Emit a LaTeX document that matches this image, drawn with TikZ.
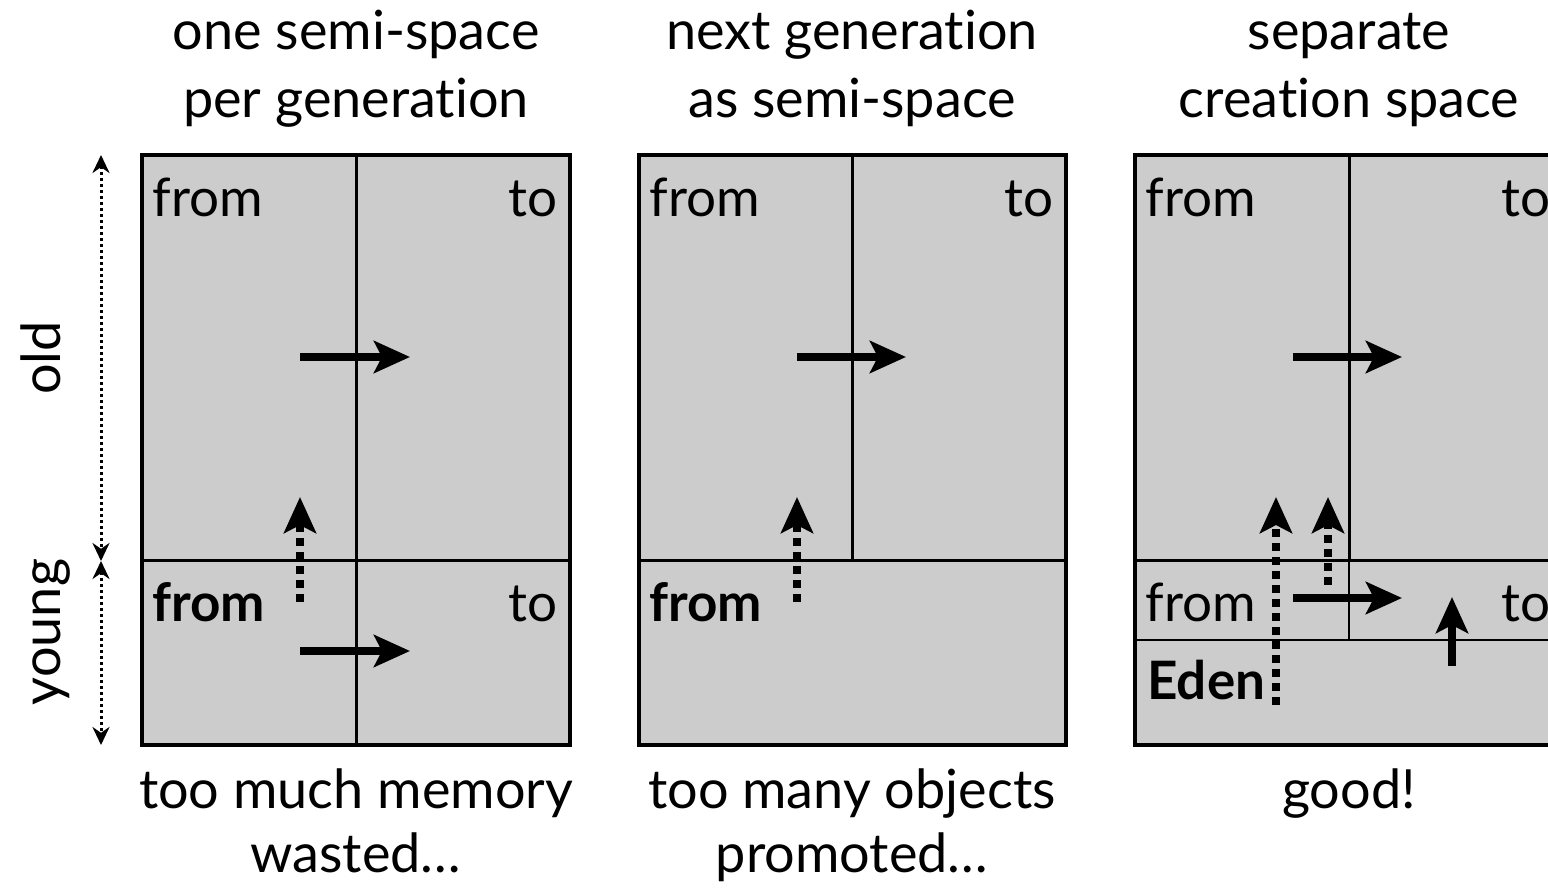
\documentclass[tikz,border=0pt]{standalone}
\usepackage{fontspec}
\setmainfont[Ligatures=NoCommon]{Lato}
\usetikzlibrary{arrows.meta}
\definecolor{boxgray}{gray}{0.8}
\begin{document}
\begin{tikzpicture}[x=0.5pt,y=-0.5pt,
  box/.style={fill=boxgray,draw=black,line width=1.8pt},
  divline/.style={draw=black,line width=1.5pt},
  thindiv/.style={draw=black,line width=0.9pt},
  move/.style={line width=4pt,-{Stealth[length=18pt,width=16pt,inset=4pt]}},
  promote/.style={line width=4.2pt,dash pattern=on 4pt off 3pt,-{Stealth[length=18pt,width=16pt,inset=4pt]}},
  span/.style={line width=1.5pt,dash pattern=on 1.5pt off 1.5pt,{Stealth[length=9pt,width=8.5pt]}-{Stealth[length=9pt,width=8.5pt]}},
  lbl/.style={inner sep=0pt,font=\fontsize{26.5}{30}\selectfont},
  boldlbl/.style={lbl,font=\fontsize{26.5}{30}\selectfont\bfseries},
  ttl/.style={inner sep=0pt,anchor=base,font=\fontsize{27}{30}\selectfont}]
\useasboundingbox (0,0) rectangle (1548,892);
\clip (0,0) rectangle (1548,892);

% ---------- titles ----------
\node[ttl] (t1a) at (356,50) {one semi-space};
\node[ttl] (t1b) at (356,118) {per generation};
\node[ttl] (t2a) at (852,50) {next generation};
\node[ttl] (t2b) at (852,118) {as semi-space};
\node[ttl] (t3a) at (1349,50) {separate};
\node[ttl] (t3b) at (1349,118) {creation space};

% ---------- bottom captions ----------
\node[ttl] (c1a) at (356,808) {too much memory};
\node[ttl] (c1b) at (356,872) {wasted\ldots};
\node[ttl] (c2a) at (852,808) {too many objects};
\node[ttl] (c2b) at (852,872) {promoted\ldots};
\node[ttl] (c3a) at (1349,808) {good!};

% ---------- side labels ----------
\coordinate (s0) at (101,155);
\coordinate (s1) at (101,561);
\coordinate (s2) at (101,745);
\draw[span] (s0) -- (s1);
\draw[span] (s1) -- (s2);
\node[ttl,rotate=90,anchor=base] (old) at (61,358) {old};
\node[ttl,rotate=90,anchor=base] (young) at (61,632) {young};

% ---------- panel 1 ----------
\draw[box] (142,155) rectangle (570,745);
\draw[divline] (356,155) -- (356,745);
\draw[divline] (142,561) -- (570,561);
\node[lbl,anchor=base west] (p1f) at (152,217) {from};
\node[lbl,anchor=base east] (p1t) at (558,217) {to};
\node[boldlbl,anchor=base west] (p1yf) at (152,622) {from};
\node[lbl,anchor=base east] (p1yt) at (558,622) {to};
\coordinate (a1s) at (300,357); \coordinate (a1e) at (410,357);
\coordinate (a2s) at (300,651); \coordinate (a2e) at (410,651);
\coordinate (d1s) at (300,602); \coordinate (d1e) at (300,497);
\draw[move] (a1s) -- (a1e);
\draw[move] (a2s) -- (a2e);
\draw[promote] (d1s) -- (d1e);

% ---------- panel 2 ----------
\draw[box] (639,155) rectangle (1066,745);
\draw[divline] (852,155) -- (852,561);
\draw[divline] (639,561) -- (1066,561);
\node[lbl,anchor=base west] (p2f) at (649,217) {from};
\node[lbl,anchor=base east] (p2t) at (1054,217) {to};
\node[boldlbl,anchor=base west] (p2yf) at (649,622) {from};
\coordinate (b1s) at (797,357); \coordinate (b1e) at (906,357);
\coordinate (e1s) at (797,602); \coordinate (e1e) at (797,497);
\draw[move] (b1s) -- (b1e);
\draw[promote] (e1s) -- (e1e);

% ---------- panel 3 ----------
\draw[box] (1135,155) rectangle (1563,745);
\draw[divline] (1349,155) -- (1349,561);
\draw[thindiv] (1349,561) -- (1349,640);
\draw[divline] (1135,561) -- (1563,561);
\draw[thindiv] (1135,640) -- (1563,640);
\node[lbl,anchor=base west] (p3f) at (1145,217) {from};
\node[lbl,anchor=base east] (p3t) at (1551,217) {to};
\node[lbl,anchor=base west] (p3yf) at (1145,622) {from};
\node[lbl,anchor=base east] (p3yt) at (1551,622) {to};
\node[boldlbl,anchor=base west] (eden) at (1147,700) {Eden};
\coordinate (c1s) at (1293,357); \coordinate (c1e) at (1402,357);
\coordinate (c2s) at (1293,598); \coordinate (c2e) at (1402,598);
\coordinate (f1s) at (1276,705); \coordinate (f1e) at (1276,497);
\coordinate (f2s) at (1328,585); \coordinate (f2e) at (1328,497);
\coordinate (g1s) at (1452,666); \coordinate (g1e) at (1452,597);
\draw[move] (c1s) -- (c1e);
\draw[move] (c2s) -- (c2e);
\draw[promote] (f1s) -- (f1e);
\draw[promote] (f2s) -- (f2e);
\draw[move] (g1s) -- (g1e);
\end{tikzpicture}
\end{document}
